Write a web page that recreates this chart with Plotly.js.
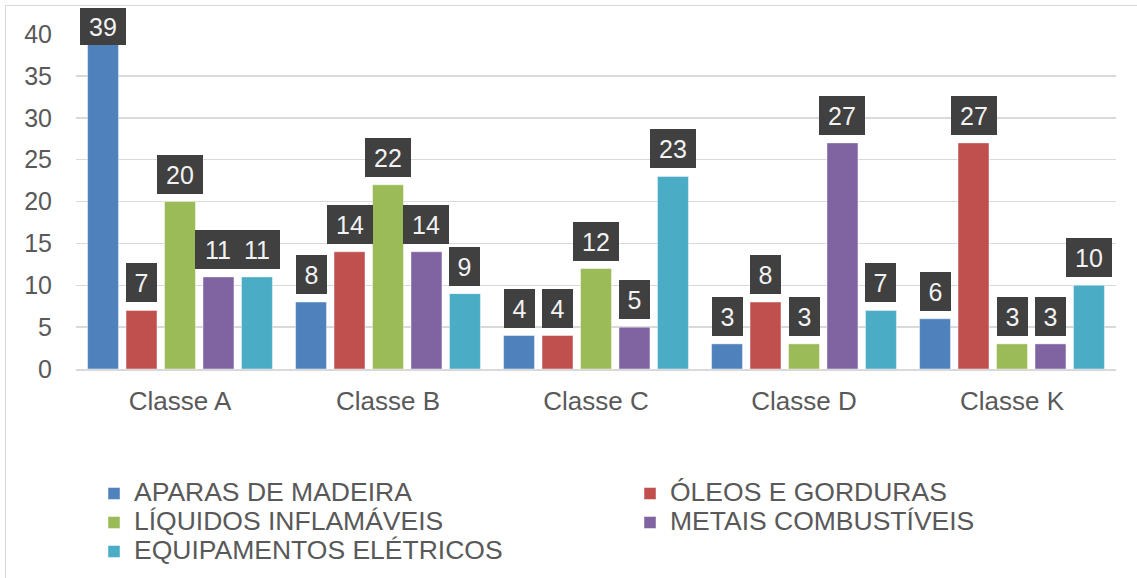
<!DOCTYPE html>
<html><head><meta charset="utf-8">
<script src="https://cdn.plot.ly/plotly-3.0.1.min.js"></script>
<style>
html,body{margin:0;padding:0;background:#fff;overflow:hidden}
#frame{position:absolute;left:5px;top:5px;width:1200px;height:640px;border:1.5px solid #d9d9d9;pointer-events:none}
</style></head><body>
<div id="chart" style="width:1137px;height:578px"></div>
<div id="frame"></div>
<script>
const categories = ['Classe A', 'Classe B', 'Classe C', 'Classe D', 'Classe K'];
const seriesNames = ['APARAS DE MADEIRA', 'ÓLEOS E GORDURAS', 'LÍQUIDOS INFLAMÁVEIS', 'METAIS COMBUSTÍVEIS', 'EQUIPAMENTOS ELÉTRICOS'];
const aparas = [39, 8, 4, 3, 6];
const oleos = [7, 14, 4, 8, 27];
const liquidos = [20, 22, 12, 3, 3];
const metais = [11, 14, 5, 27, 3];
const equipamentos = [11, 9, 23, 7, 10];
const yTickVals = [0, 5, 10, 15, 20, 25, 30, 35, 40];

const seriesValues = [aparas, oleos, liquidos, metais, equipamentos];
const colors = ['#4f81bd', '#c0504d', '#9bbb59', '#8064a2', '#4bacc6'];
const legendColumn = ['legend', 'legend2', 'legend', 'legend2', 'legend'];
const FONT = 'Liberation Sans, Arial, sans-serif';

const W = 1137, H = 578;
const margin = {l: 76, r: 21, t: 34, b: 209, autoexpand: false};
const yMax = 40;
const plotH = H - margin.t - margin.b;
const pxPerUnit = plotH / yMax;
const bargap = 0.075, bargroupgap = 0.195;
const slot = (1 - bargap) / seriesValues.length;

const traces = seriesValues.map((vals, i) => ({
  type: 'bar',
  name: '<span style="font-size:26.5px">' + seriesNames[i] + '</span>',
  legend: legendColumn[i],
  x: categories,
  y: vals,
  marker: {color: colors[i], line: {color: 'rgba(255,255,255,0.45)', width: 1}},
  hoverinfo: 'x+y'
}));

const annotations = [];
seriesValues.forEach((vals, s) => {
  vals.forEach((v, c) => {
    const txt = String(v);
    const boxH = 39, gap = 8;
    const topPx = margin.t + (yMax - v) * pxPerUnit - gap - boxH;
    const deficit = Math.max(0, 6 - topPx);
    annotations.push({
      x: c + (s - (seriesValues.length - 1) / 2) * slot,
      y: v,
      xref: 'x', yref: 'y',
      text: txt,
      showarrow: false,
      yanchor: 'bottom',
      xanchor: 'center',
      yshift: gap - deficit,
      width: 16 + 15 * txt.length,
      height: boxH - (deficit > 0 ? 2 : 0),
      bgcolor: '#404040',
      borderpad: 0,
      borderwidth: 0,
      valign: 'middle',
      align: 'center',
      font: {family: FONT, size: 25, color: '#f2f2f2'}
    });
  });
});

const legendBase = {
  orientation: 'v',
  xref: 'container', yref: 'container',
  xanchor: 'left',
  y: 1 - 474 / H, yanchor: 'top',
  traceorder: 'normal',
  font: {family: FONT, size: 20, color: '#595959'},
  bgcolor: 'rgba(0,0,0,0)'
};

const layout = {
  width: W, height: H,
  margin: margin,
  paper_bgcolor: '#ffffff',
  plot_bgcolor: '#ffffff',
  barmode: 'group',
  bargap: bargap,
  bargroupgap: bargroupgap,
  showlegend: true,
  font: {family: FONT, color: '#595959'},
  xaxis: {
    type: 'category',
    showgrid: false,
    showline: true,
    linecolor: '#d9d9d9',
    linewidth: 1.5,
    ticks: '',
    ticklabelstandoff: 8,
    tickfont: {family: FONT, size: 26, color: '#595959'},
    fixedrange: true
  },
  yaxis: {
    range: [0, yMax],
    tickvals: yTickVals,
    showgrid: true,
    gridcolor: '#d9d9d9',
    gridwidth: 1.5,
    zeroline: false,
    showline: false,
    ticks: '',
    ticklabelstandoff: 23,
    tickfont: {family: FONT, size: 25, color: '#595959'},
    fixedrange: true
  },
  legend: Object.assign({}, legendBase, {x: 94 / W}),
  legend2: Object.assign({}, legendBase, {x: 630 / W}),
  annotations: annotations
};

Plotly.newPlot('chart', traces, layout, {displayModeBar: false, staticPlot: true});
</script>
</body></html>
